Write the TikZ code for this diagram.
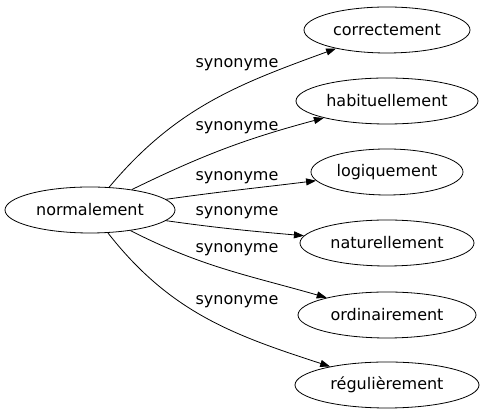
\documentclass[tikz,border=0pt]{standalone}
\usepackage{fontspec}
\setmainfont{DejaVu Sans}
\usetikzlibrary{shapes.geometric,arrows.meta}
\begin{document}
\begin{tikzpicture}[x=1pt,y=1pt,
  word/.style={draw, ellipse, line width=0.8pt, inner sep=0pt, font=\fontsize{16}{19}\selectfont, minimum height=46pt},
  lbl/.style={font=\fontsize{16}{19}\selectfont, inner sep=0pt},
  edge/.style={line width=0.8pt, -{Triangle[length=10pt,width=7pt]}}]
\useasboundingbox (0,0) rectangle (485,419);
\node[word, minimum width=170pt] (n) at (90,209) {normalement};
\node[word, minimum width=166pt] (c1) at (387,389) {correctement};
\node[word, minimum width=182pt] (c2) at (387,318) {habituellement};
\node[word, minimum width=152pt] (c3) at (387,247) {logiquement};
\node[word, minimum width=174pt] (c4) at (387,176) {naturellement};
\node[word, minimum width=178pt] (c5) at (387,104) {ordinairement};
\node[word, minimum width=184pt] (c6) at (387,34) {régulièrement};
\node[lbl] (l1) at (237,354) {synonyme};
\node[lbl] (l2) at (237,291) {synonyme};
\node[lbl] (l3) at (237,241) {synonyme};
\node[lbl] (l4) at (237,206) {synonyme};
\node[lbl] (l5) at (237,169) {synonyme};
\node[lbl] (l6) at (237,117) {synonyme};
\draw[edge] (n) to[out=50,in=200] (c1);
\draw[edge] (n) to[out=26,in=195] (c2);
\draw[edge] (n) to[out=8,in=187] (c3);
\draw[edge] (n) to[out=-8,in=175] (c4);
\draw[edge] (n) to[out=-27,in=164] (c5);
\draw[edge] (n) to[out=-52,in=162] (c6);
\end{tikzpicture}
\end{document}
